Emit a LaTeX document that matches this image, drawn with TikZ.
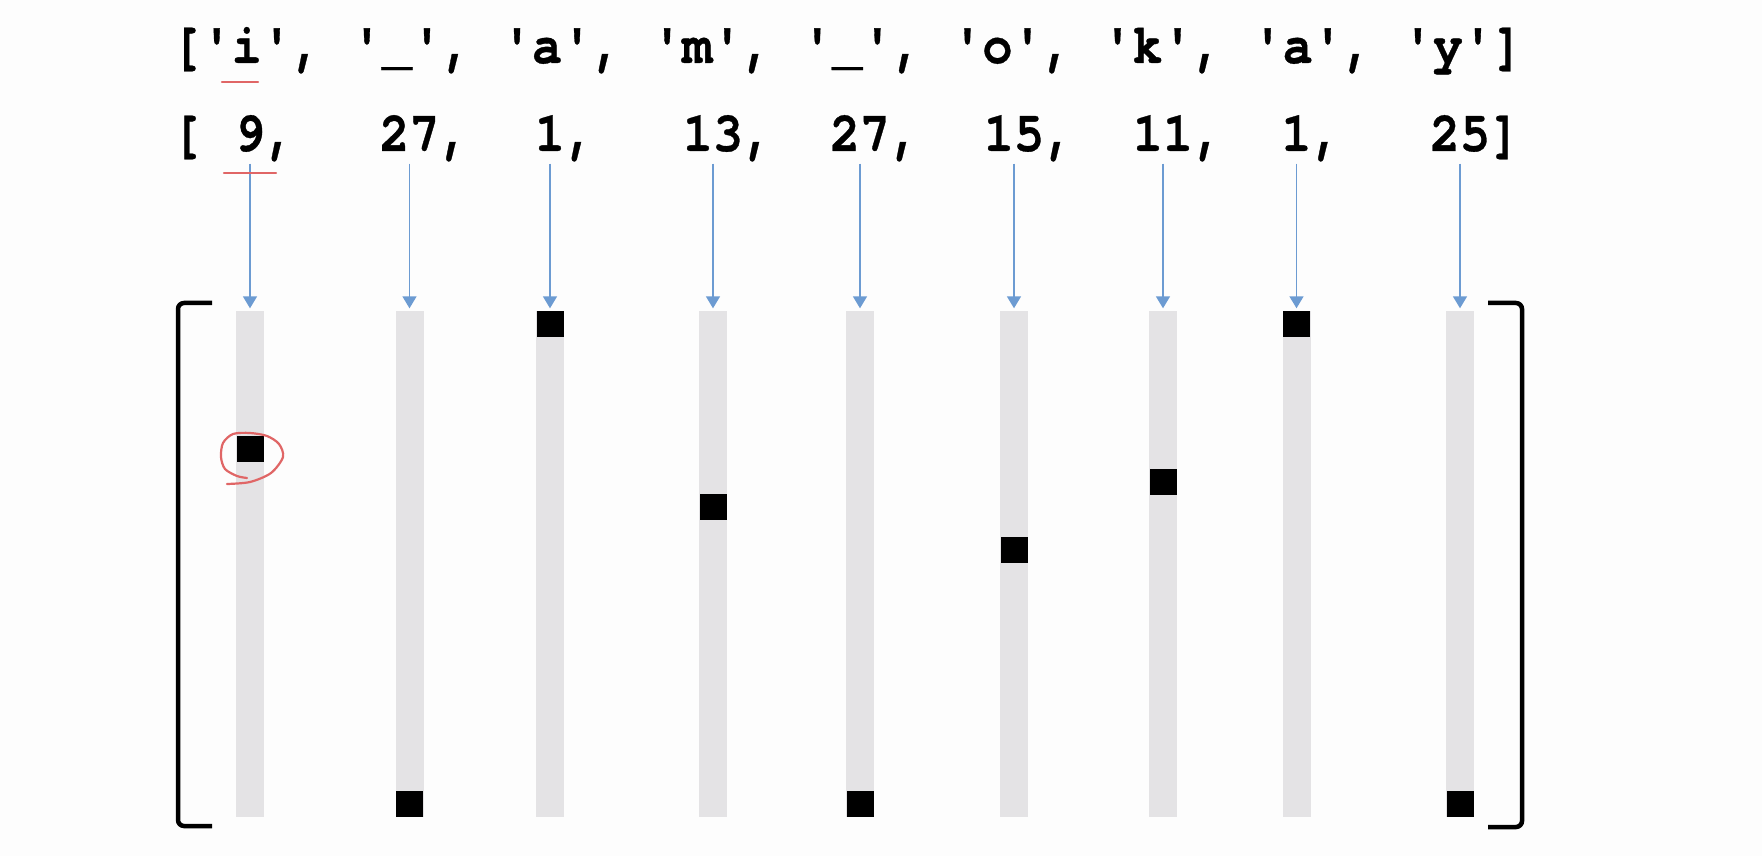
\documentclass[tikz,border=0pt]{standalone}
\usepackage{fontspec}
\usetikzlibrary{arrows.meta}
\newfontfamily\cursorfont{texgyrecursor-bold.otf}[FakeStretch=0.89,FakeBold=0.6,Ligatures=TeXOff]
\definecolor{pagebg}{HTML}{FDFDFD}
\definecolor{slotgrey}{HTML}{E4E3E5}
\definecolor{pointerblue}{HTML}{6C9BD2}
\definecolor{penred}{HTML}{E06666}
\newcommand{\codefont}{\fontsize{16}{18}\selectfont\cursorfont}

\begin{document}
\begin{tikzpicture}[x=0.1mm,y=0.1mm,
  slot/.style={fill=slotgrey,minimum width=2.8mm,minimum height=50.6mm,inner sep=0pt},
  hot/.style={fill=black,minimum width=2.7mm,minimum height=2.6mm,inner sep=0pt},
  idx/.style={anchor=base,inner xsep=0pt,inner ysep=1.2mm,text depth=0pt},
  pointer/.style={pointerblue,line width=0.15mm,-{Triangle[width=1.4mm,length=1.2mm]},shorten >=0.2mm},
  brace/.style={line width=0.45mm,rounded corners=0.6mm},
  pen/.style={penred,line width=0.22mm,line cap=round}]
  \useasboundingbox (0,0) rectangle (1762,856);
  \fill[pagebg] (0,0) rectangle (1762,856);

  % characters and their indices
  \node[anchor=base west,inner sep=0pt] (chars) at (171,793)
    {\codefont ['i', '\_', 'a', 'm', '\_', 'o', 'k', 'a', 'y']};
  \node[anchor=base,inner sep=0pt] (open) at (187,705) {\codefont [};

  % one-hot columns
  \foreach \i/\x/\n/\h in {1/250/9/407, 2/409.5/27/52, 3/550/1/532,
      4/713/13/349, 5/860/27/52, 6/1014/15/306, 7/1163/11/374,
      8/1296.5/1/532, 9/1460/25/52}{
    \node[slot] (slot\i) at (\x,292) {};
    \node[hot] (hot\i) at (\x,\h) {};
    \node[idx] (num\i) at (\x,705) {\codefont\n\rlap{\ifnum\i<9 ,\else ]\fi}};
    \draw[pointer] (num\i) -- (slot\i);
  }

  \draw[brace] (212,553) -- (178,553) -- (178,30) -- (212,30);
  \draw[brace] (1488,553) -- (1522,553) -- (1522,29) -- (1488,29);

  % pen marks
  \draw[pen] (222,774) -- (258,774);
  \draw[pen] (224,683) -- (276,683);
  \draw[pen] plot[smooth] coordinates {(227,372) (250,374) (271,383) (283,399)
    (279,412) (267,420) (250,423) (233,422) (223,413) (221,399) (225,387)
    (237,380) (247,378)};
\end{tikzpicture}
\end{document}
